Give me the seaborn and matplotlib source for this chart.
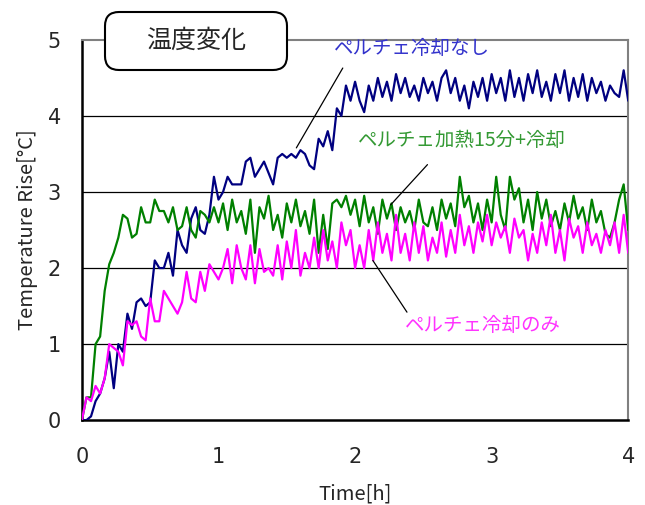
import numpy as np
import pandas as pd
import matplotlib
matplotlib.use("Agg")
import matplotlib.pyplot as plt
import seaborn as sns
from matplotlib.ticker import MultipleLocator
from matplotlib.patches import FancyBboxPatch
from matplotlib.transforms import IdentityTransform

sns.set_style("white")
plt.rcParams['font.family'] = ['Noto Sans CJK JP', 'DejaVu Sans']

# time axis: one sample every 2 minutes, 0 .. 4 h
time_h = [i / 30 for i in range(121)]

no_cooling = [
    0.0, 0.0, 0.05, 0.25, 0.35, 0.55, 0.9, 0.42, 1.0, 0.9,
    1.4, 1.2, 1.55, 1.6, 1.5, 1.55, 2.1, 2.0, 2.0, 2.2,
    1.9, 2.5, 2.3, 2.2, 2.65, 2.8, 2.5, 2.45, 2.7, 3.2,
    2.9, 3.0, 3.2, 3.1, 3.1, 3.1, 3.4, 3.45, 3.2, 3.3,
    3.4, 3.25, 3.1, 3.45, 3.5, 3.45, 3.5, 3.45, 3.55, 3.5,
    3.35, 3.3, 3.7, 3.6, 3.8, 3.55, 4.1, 4.0, 4.4, 4.2,
    4.45, 4.2, 4.05, 4.4, 4.2, 4.5, 4.25, 4.45, 4.2, 4.55,
    4.3, 4.5, 4.25, 4.4, 4.2, 4.5, 4.3, 4.45, 4.2, 4.5,
    4.6, 4.3, 4.5, 4.2, 4.4, 4.1, 4.45, 4.25, 4.5, 4.2,
    4.55, 4.3, 4.5, 4.2, 4.6, 4.25, 4.5, 4.2, 4.55, 4.3,
    4.6, 4.25, 4.45, 4.2, 4.55, 4.3, 4.6, 4.2, 4.5, 4.25,
    4.55, 4.2, 4.5, 4.3, 4.45, 4.2, 4.4, 4.3, 4.25, 4.6,
    4.2,
]

heat15_cool = [
    0.0, 0.3, 0.3, 1.0, 1.1, 1.7, 2.05, 2.2, 2.4, 2.7,
    2.65, 2.4, 2.45, 2.8, 2.6, 2.6, 2.9, 2.75, 2.75, 2.6,
    2.8, 2.5, 2.55, 2.8, 2.5, 2.4, 2.75, 2.7, 2.6, 2.8,
    2.6, 2.85, 2.5, 2.9, 2.6, 2.75, 2.45, 2.9, 2.2, 2.8,
    2.65, 2.95, 2.5, 2.7, 2.4, 2.85, 2.6, 2.9, 2.55, 2.75,
    2.45, 2.9, 2.2, 2.7, 2.25, 2.85, 2.9, 2.8, 2.95, 2.7,
    2.9, 2.55, 2.95, 2.6, 2.8, 2.45, 2.9, 2.65, 2.85, 2.5,
    2.8, 2.6, 2.75, 2.5, 2.9, 2.6, 2.55, 2.8, 2.5, 2.9,
    2.65, 2.85, 2.55, 3.2, 2.8, 2.95, 2.6, 2.85, 2.5, 2.9,
    2.6, 3.2, 2.7, 2.5, 3.2, 2.9, 3.05, 2.6, 2.9, 2.5,
    3.0, 2.65, 2.9, 2.55, 2.75, 2.5, 2.85, 2.6, 2.95, 2.65,
    2.8, 2.5, 2.9, 2.6, 2.75, 2.45, 2.4, 2.6, 2.9, 3.1,
    2.5,
]

cooling_only = [
    0.0, 0.3, 0.25, 0.45, 0.35, 0.55, 1.0, 0.95, 0.9, 0.72,
    1.3, 1.25, 1.3, 1.1, 1.05, 1.6, 1.3, 1.3, 1.7, 1.6,
    1.5, 1.4, 1.55, 1.95, 1.6, 1.55, 1.95, 1.7, 2.05, 1.95,
    1.85, 2.0, 2.25, 1.8, 2.3, 2.0, 1.85, 2.3, 1.8, 2.25,
    1.95, 2.0, 1.9, 2.3, 1.85, 2.35, 2.0, 2.5, 1.9, 2.2,
    2.0, 2.4, 2.0, 2.5, 2.1, 2.35, 2.0, 2.6, 2.3, 2.5,
    2.0, 2.3, 2.0, 2.5, 2.1, 2.6, 2.2, 2.45, 2.1, 2.7,
    2.2, 2.45, 2.1, 2.6, 2.2, 2.55, 2.1, 2.4, 2.2, 2.6,
    2.15, 2.5, 2.2, 2.7, 2.3, 2.55, 2.2, 2.6, 2.35, 2.7,
    2.3, 2.6, 2.4, 2.55, 2.2, 2.65, 2.4, 2.5, 2.1, 2.45,
    2.2, 2.6, 2.3, 2.7, 2.2, 2.5, 2.1, 2.65, 2.4, 2.55,
    2.2, 2.6, 2.3, 2.45, 2.2, 2.5, 2.3, 2.6, 2.2, 2.7,
    2.2,
]

series_names = ["ペルチェ冷却なし", "ペルチェ加熱15分+冷却", "ペルチェ冷却のみ"]
series_colors = ["#000080", "#008000", "#FF00FF"]
text_colors = ["#3333CC", "#339933", "#FF33FF"]

df = pd.DataFrame({
    "time": time_h * 3,
    "value": no_cooling + heat15_cool + cooling_only,
    "series": [series_names[0]] * 121 + [series_names[1]] * 121 + [series_names[2]] * 121,
})

fig = plt.figure(figsize=(6.45, 5.05), dpi=100)
ax = fig.add_axes([0.127, 0.168, 0.847, 0.753])

sns.lineplot(data=df, x="time", y="value", hue="series", hue_order=series_names,
             palette=dict(zip(series_names, series_colors)), linewidth=1.6,
             legend=False, ax=ax, zorder=3)

ax.set_xlim(0, 4)
ax.set_ylim(0, 5)
ax.xaxis.set_major_locator(MultipleLocator(1))
ax.xaxis.set_minor_locator(MultipleLocator(0.5))
ax.yaxis.set_major_locator(MultipleLocator(1))
ax.yaxis.set_minor_locator(MultipleLocator(0.5))
ax.tick_params(axis="both", which="major", direction="in", length=6, width=1.2,
               labelsize=15, color="black")
ax.tick_params(axis="both", which="minor", direction="in", length=4, width=1.0, color="black")
ax.tick_params(axis="x", which="major", pad=19)
ax.tick_params(axis="y", which="major", pad=15)
for lab in ax.get_xticklabels() + ax.get_yticklabels():
    lab.set_family(['DejaVu Sans'])

for yv in [1, 2, 3, 4]:
    ax.axhline(yv, color="black", linewidth=0.9, zorder=1)

for s in ["left", "bottom"]:
    ax.spines[s].set_color("black")
    ax.spines[s].set_linewidth(1.8)
for s in ["top", "right"]:
    ax.spines[s].set_color("#808080")
    ax.spines[s].set_linewidth(1.5)

ax.set_xlabel("Time[h]", fontsize=14.5, labelpad=12)
ax.set_ylabel("Temperature Rise[°C]", fontsize=14.5, labelpad=7)

# title box (pixel coordinates, origin bottom-left)
box = FancyBboxPatch((105, 505 - 70), 182, 58,
                     boxstyle="round,pad=0,rounding_size=14",
                     transform=IdentityTransform(), fc="white", ec="black",
                     lw=1.5, zorder=10)
fig.add_artist(box)
fig.text(196 / 645, 1 - 41 / 505, "温度変化", fontsize=18, ha="center", va="center",
         zorder=11)

# annotations: leader lines and labels
leaders = [((1.57, 3.58), (1.91, 4.63)),
           ((2.26, 2.83), (2.53, 3.36)),
           ((2.13, 2.10), (2.38, 1.42))]
label_pos = [(2.42, 4.89), (2.78, 3.68), (2.94, 1.25)]
for name, col, (p0, p1), tp in zip(series_names, text_colors, leaders, label_pos):
    ax.annotate("", xy=p0, xytext=p1,
                arrowprops=dict(arrowstyle="-", color="black", lw=0.9,
                                shrinkA=0, shrinkB=0),
                annotation_clip=False, zorder=5)
    ax.text(tp[0], tp[1], name, fontsize=14, color=col, ha="center", va="center",
            zorder=6)

fig.savefig("out.png", dpi=100)
